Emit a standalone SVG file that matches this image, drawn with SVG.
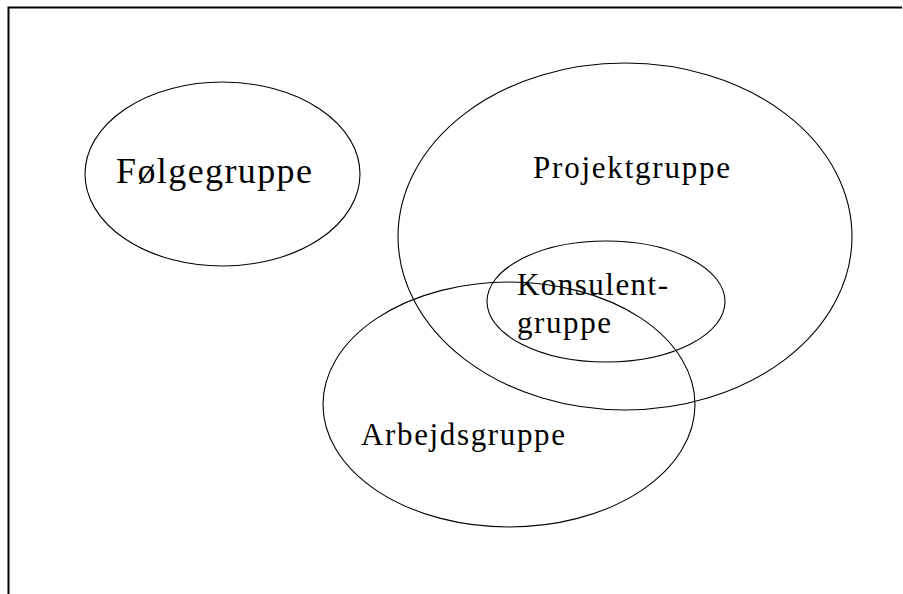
<svg xmlns="http://www.w3.org/2000/svg" width="903" height="594" viewBox="0 0 903 594">
<style>
.e{fill:none;stroke:#000;stroke-width:1.1}
.t{font-family:"Liberation Serif","Times New Roman",serif;fill:#000}
.b{fill:none;stroke:#000;stroke-width:2}
</style>
<rect width="903" height="594" fill="#fff"/>
<path class="b" d="M8.5,594 V7.5 H902"/>
<g id="folgegruppe">
<ellipse class="e" cx="222.5" cy="174" rx="137.5" ry="92"/>
<text class="t" x="116" y="183" font-size="36" textLength="196" lengthAdjust="spacing">Følgegruppe</text>
</g>
<g id="projektgruppe">
<ellipse class="e" cx="625" cy="236.5" rx="227" ry="173.5"/>
<text class="t" x="533" y="178" font-size="31" textLength="197" lengthAdjust="spacing">Projektgruppe</text>
</g>
<g id="arbejdsgruppe">
<ellipse class="e" cx="509" cy="404.5" rx="186" ry="122.5"/>
<text class="t" x="361" y="445" font-size="31" textLength="204" lengthAdjust="spacing">Arbejdsgruppe</text>
</g>
<g id="konsulentgruppe">
<ellipse class="e" cx="606" cy="301.5" rx="119" ry="60.5"/>
<text class="t" x="517" y="295" font-size="31" textLength="151" lengthAdjust="spacing">Konsulent-</text>
<text class="t" x="517" y="333" font-size="31" textLength="94" lengthAdjust="spacing">gruppe</text>
</g>
</svg>
